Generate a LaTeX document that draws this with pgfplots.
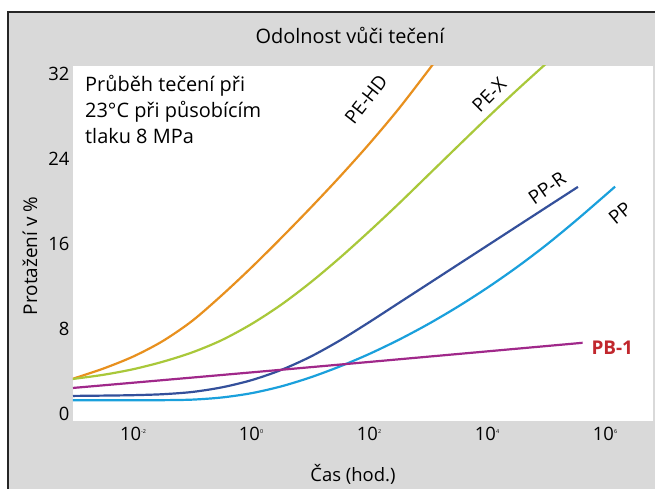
\documentclass[border=0pt]{standalone}
\usepackage{fontspec}
\setmainfont{Open Sans}
\usepackage{pgfplots}
\pgfplotsset{compat=1.18}

\definecolor{bggray}{HTML}{D9D9D9}
\definecolor{cPEHD}{HTML}{E8901E}
\definecolor{cPEX}{HTML}{A9C83A}
\definecolor{cPPR}{HTML}{34509B}
\definecolor{cPP}{HTML}{1AA0DC}
\definecolor{cPB}{HTML}{A0288A}
\definecolor{cPBtxt}{HTML}{C1272D}

\newcommand{\tpow}[1]{10\raisebox{0.75ex}{\fontsize{5.5}{5.5}\selectfont #1}}

\begin{document}
\begin{tikzpicture}[x=1bp,y=1bp]
\useasboundingbox (0,0) rectangle (655,489);
\fill[bggray] (8,-5) rectangle (662,477);
\draw[line width=1.6bp, black!85] (8,-5) -- (8,477) -- (662,477);
\node[font=\fontsize{20}{22}\selectfont] at (350,454) {Odolnost vůči tečení};
\node[font=\fontsize{18.5}{20}\selectfont] at (353,15) {Čas (hod.)};
\node[font=\fontsize{19}{20}\selectfont, rotate=90] at (30,233) {Protažení v \%};

\begin{axis}[
    at={(73bp,68bp)}, anchor=south west,
    width=580bp, height=355bp, scale only axis,
    xmode=log,
    xmin=0.00096, xmax=6.5e6,
    ymin=-0.66, ymax=32.75,
    axis background/.style={fill=white},
    axis line style={draw=none},
    tick style={draw=none},
    xtick={0.01,1,100,10000,1000000},
    xticklabels={\tpow{-2},\tpow{0},\tpow{2},\tpow{4},\tpow{6}},
    ytick={0,8,16,24,32},
    ticklabel style={font=\fontsize{18.5}{20}\selectfont},
    xticklabel style={yshift=-3bp},
    /pgf/number format/assume math mode=true,
    clip=true,
    every axis plot/.append style={line width=2.2bp, smooth},
]
% PE-HD
\addplot[cPEHD] coordinates {(0.00096,3.3) (1e-3,3.35) (3.16e-3,4.28) (1e-2,5.4) (3.16e-2,6.85) (0.1,8.75) (0.316,11.15) (1,13.75) (3.16,16.5) (10,19.35) (31.6,22.3) (100,25.4) (316,28.7) (1000,32.3) (1260,33.05)};
% PE-X
\addplot[cPEX] coordinates {(0.00096,3.3) (1e-3,3.31) (3.16e-3,3.69) (1e-2,4.21) (3.16e-2,4.91) (0.1,5.79) (0.316,6.94) (1,8.44) (3.16,10.24) (10,12.34) (31.6,14.67) (100,17.17) (316,19.77) (1000,22.47) (3160,25.17) (10000,27.85) (31600,30.45) (100000,32.97)};
% PP-R
\addplot[cPPR] coordinates {(0.00096,1.7) (3.16e-3,1.73) (1e-2,1.77) (3.16e-2,1.86) (0.1,2.07) (0.316,2.5) (1,3.17) (3.16,4.12) (10,5.37) (31.6,6.9) (100,8.63) (316,10.43) (1000,12.23) (3160,14.03) (10000,15.83) (31600,17.63) (100000,19.43) (347000,21.37)};
% PP
\addplot[cPP] coordinates {(0.00096,1.3) (1e-2,1.3) (3.16e-2,1.3) (0.1,1.35) (0.316,1.55) (1,1.95) (3.16,2.58) (10,3.43) (31.6,4.46) (100,5.64) (316,6.97) (1000,8.45) (3160,10.08) (10000,11.86) (31600,13.79) (100000,15.89) (316000,18.17) (1000000,20.57) (1480000,21.4)};
% PB-1
\addplot[cPB] coordinates {(0.00096,2.45) (10,4.4) (417000,6.7)};
\end{axis}

\node[font=\fontsize{20}{26}\selectfont, align=left, anchor=north west, inner sep=0pt] at (85,414)
  {Průběh tečení při\\23°C při působícím\\tlaku 8 MPa};
\node[font=\fontsize{19}{20}\selectfont, rotate=52, inner sep=1pt] at (366,390) {PE-HD};
\node[font=\fontsize{19}{20}\selectfont, rotate=45, inner sep=1pt] at (489,394) {PE-X};
\node[font=\fontsize{19}{20}\selectfont, rotate=35, inner sep=1pt] at (547,301) {PP-R};
\node[font=\fontsize{19}{20}\selectfont, rotate=40, inner sep=1pt] at (620,276) {PP};
\node[font=\fontsize{19}{20}\selectfont\bfseries, text=cPBtxt, anchor=west] at (588,141) {PB-1};
\end{tikzpicture}
\end{document}
